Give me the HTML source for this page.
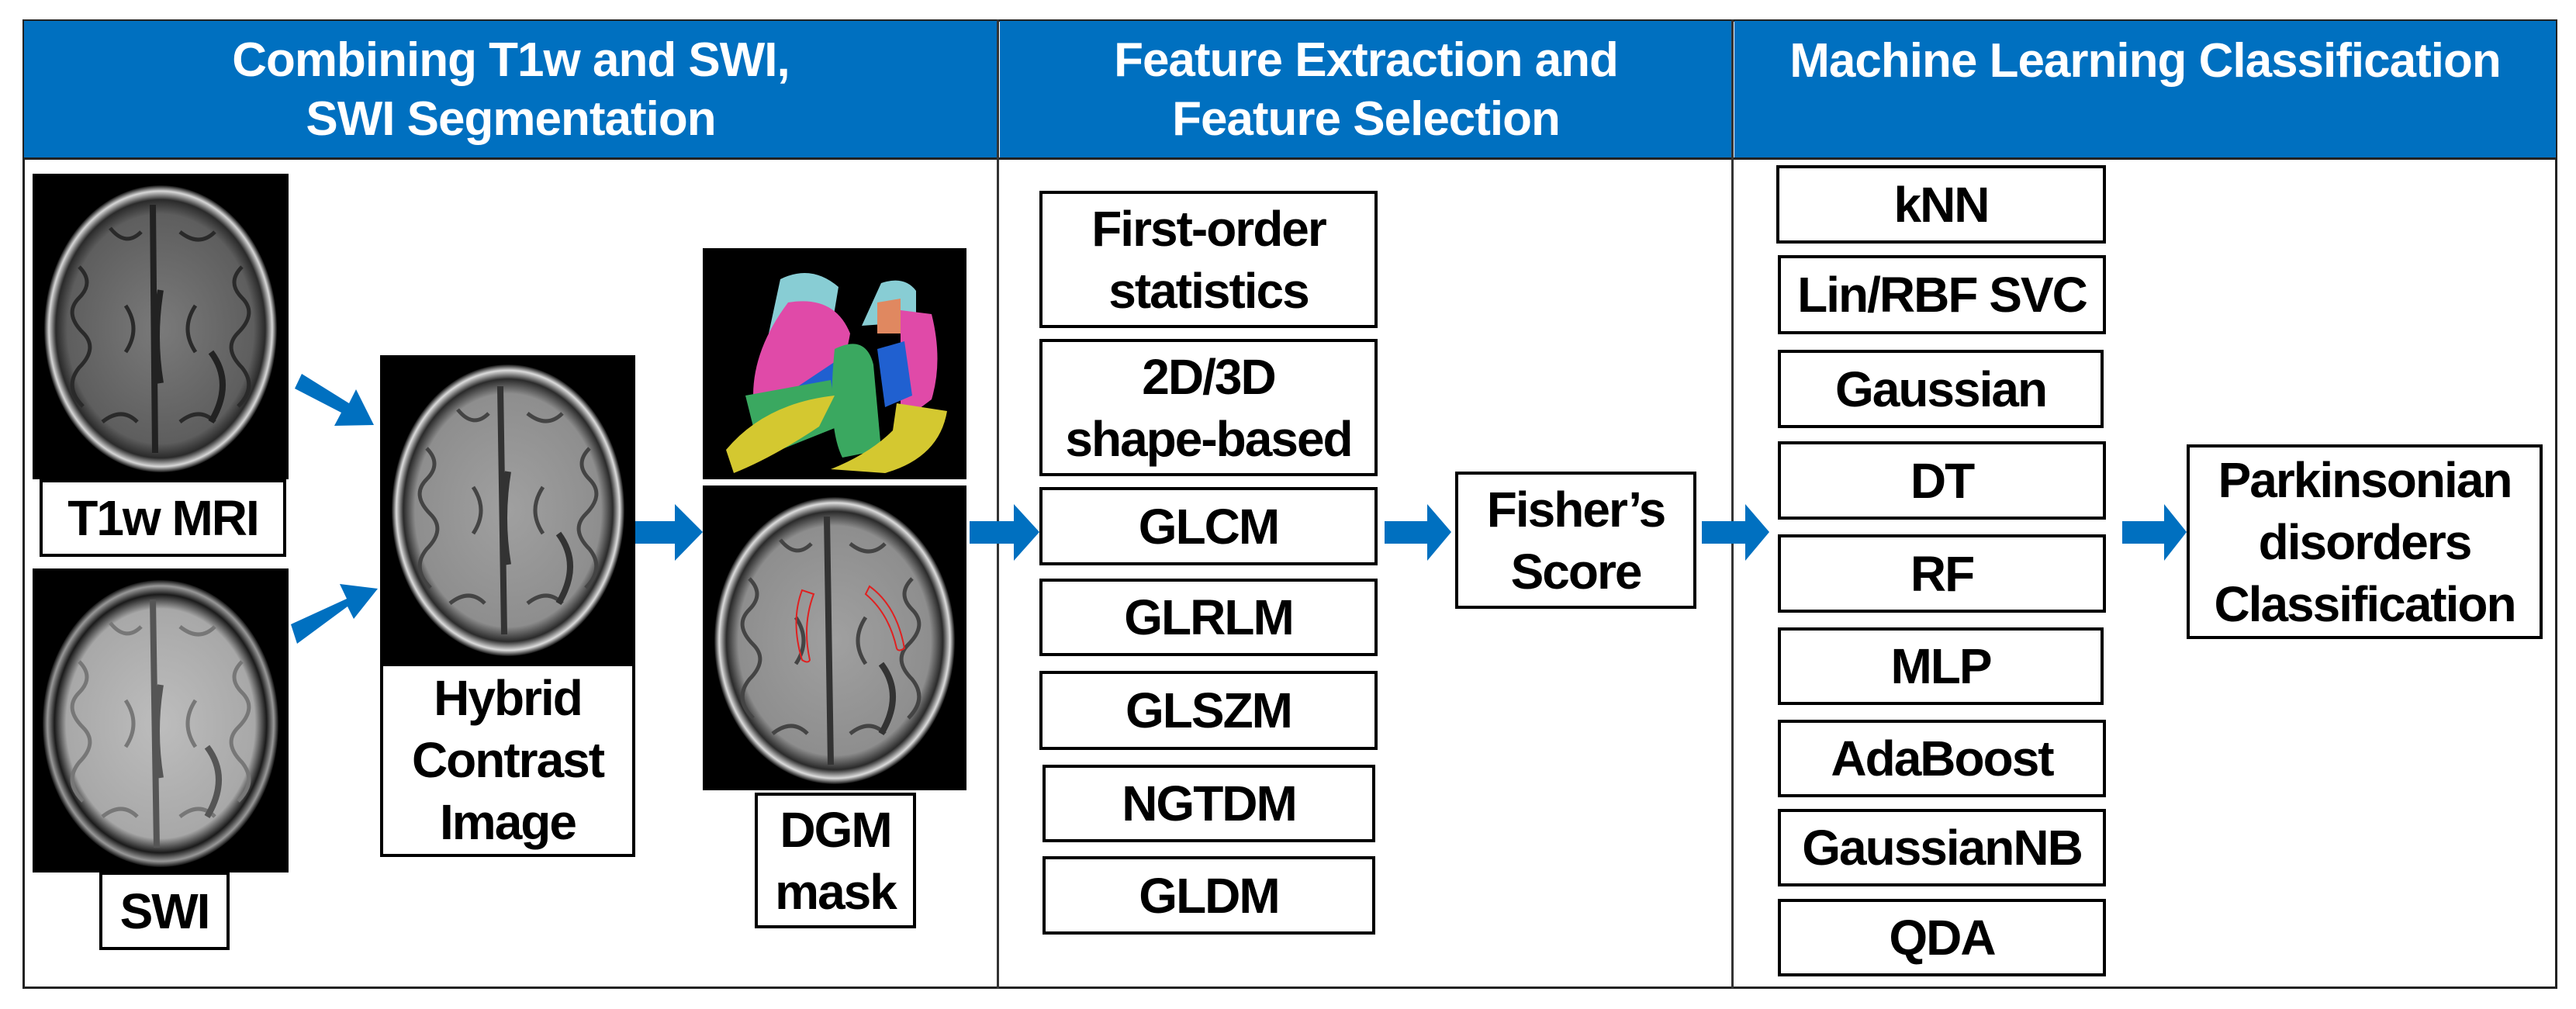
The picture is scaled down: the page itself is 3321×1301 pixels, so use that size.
<!DOCTYPE html>
<html><head><meta charset="utf-8"><style>
*{margin:0;padding:0;box-sizing:border-box}
body{width:3321px;height:1301px;background:#fff;position:relative;overflow:hidden;font-family:"Liberation Sans","Noto Sans CJK KR",sans-serif;font-weight:bold}
.a{position:absolute}
.box{position:absolute;border:4px solid #000;background:#fff;display:flex;align-items:center;justify-content:center;text-align:center;font-size:64px;line-height:1.25;color:#000;letter-spacing:-2px}
.hd{position:absolute;top:27px;height:178px;background:#0070c0;color:#fff;font-size:62px;line-height:76px;text-align:center;display:flex;align-items:center;justify-content:center;letter-spacing:-1px}
.img{position:absolute;background:#000}
</style></head><body>
<svg width="0" height="0" style="position:absolute"><defs>
<radialGradient id="bt1" cx="50%" cy="50%" r="50%"><stop offset="0" stop-color="#7a7a7a"/><stop offset="0.8" stop-color="#5e5e5e"/><stop offset="0.9" stop-color="#2a2a2a"/><stop offset="0.96" stop-color="#d8d8d8"/><stop offset="1" stop-color="#111"/></radialGradient>
<radialGradient id="bsw" cx="50%" cy="50%" r="50%"><stop offset="0" stop-color="#bdbdbd"/><stop offset="0.8" stop-color="#a8a8a8"/><stop offset="0.9" stop-color="#1a1a1a"/><stop offset="0.96" stop-color="#999"/><stop offset="1" stop-color="#111"/></radialGradient>
<radialGradient id="bhy" cx="50%" cy="50%" r="50%"><stop offset="0" stop-color="#a0a0a0"/><stop offset="0.8" stop-color="#8e8e8e"/><stop offset="0.9" stop-color="#2a2a2a"/><stop offset="0.96" stop-color="#ddd"/><stop offset="1" stop-color="#111"/></radialGradient>
<g id="gyri" fill="none" stroke-width="5">
<path d="M60 120 q20 20 0 40 q-20 20 5 45 q20 20 -5 45 q-20 25 5 50"/>
<path d="M270 120 q-20 20 0 40 q20 20 -5 45 q-20 20 5 45 q20 25 -5 50"/>
<path d="M100 70 q20 25 40 5 M190 75 q25 20 45 0 M90 320 q25-20 45 0 M190 320 q25-20 45 0"/>
<path d="M120 170 q20 30 0 60 M210 170 q-20 30 0 60"/>
</g>
</defs></svg>

<div class="a" style="left:29px;top:25px;width:3268px;height:1250px;border:3px solid #222"></div>
<div class="hd" style="left:31px;width:1255px">Combining T1w and SWI,<br>SWI Segmentation</div>
<div class="hd" style="left:1289px;width:944px">Feature Extraction and<br>Feature Selection</div>
<div class="hd" style="left:2236px;width:1059px;align-items:flex-start;padding-top:14px">Machine Learning Classification</div>
<div class="a" style="left:29px;top:203px;width:3268px;height:3px;background:#222"></div>
<div class="a" style="left:1285px;top:25px;width:3px;height:1250px;background:#333"></div>
<div class="a" style="left:2232px;top:25px;width:3px;height:1250px;background:#333"></div>

<svg class="img" style="left:42px;top:224px" width="330" height="394"><rect width="330" height="394" fill="#000"/><ellipse cx="165" cy="200" rx="150" ry="185" fill="url(#bt1)"/><use href="#gyri" stroke="#2a2a2a"/><path d="M155 40 L158 360 M165 150 q-10 60 0 120 M230 230 q30 40 0 90" stroke="#222" stroke-width="8" fill="none"/></svg>
<div class="box" style="left:51px;top:618px;width:318px;height:100px">T1w MRI</div>
<svg class="img" style="left:42px;top:733px" width="330" height="392"><rect width="330" height="392" fill="#000"/><ellipse cx="165" cy="200" rx="152" ry="185" fill="url(#bsw)"/><use href="#gyri" stroke="#777"/><path d="M155 40 L160 360 M165 150 q-10 60 0 120 M225 230 q30 40 0 90" stroke="#555" stroke-width="8" fill="none"/></svg>
<div class="box" style="left:128px;top:1124px;width:168px;height:101px">SWI</div>
<svg class="img" style="left:490px;top:458px" width="329" height="397"><rect width="329" height="397" fill="#000"/><ellipse cx="165" cy="200" rx="150" ry="188" fill="url(#bhy)"/><use href="#gyri" stroke="#444"/><path d="M155 40 L160 360 M165 150 q-10 60 0 120 M230 230 q30 40 0 90" stroke="#333" stroke-width="8" fill="none"/></svg>
<div class="box" style="left:490px;top:855px;width:329px;height:250px">Hybrid<br>Contrast<br>Image</div>
<svg class="img" style="left:906px;top:320px" width="340" height="298"><rect width="340" height="298" fill="#000"/>
<path d="M100 40 q40-20 75 10 l-10 60 l-80 0z" fill="#88cdd4"/><path d="M230 45 q30-10 45 10 l0 40 l-70 5z" fill="#88cdd4"/>
<path d="M110 70 q60-10 80 40 q-10 60-40 80 l-80 40 q-20-80 40-160z" fill="#e04aa8"/>
<path d="M120 180 l60-40 l10 50 l-80 30z" fill="#2060d0"/>
<path d="M255 80 l40 5 q15 60 0 110 l-40 30z" fill="#e04aa8"/><path d="M225 70 l30 -5 l0 45 l-30 0z" fill="#e08860"/>
<path d="M225 130 l35 -10 l10 70 l-35 15z" fill="#2060d0"/>
<path d="M170 130 q40-20 50 20 l10 110 l-50 10 q-20-40-10-140z" fill="#3aa860"/>
<path d="M55 190 l110 -20 l10 60 l-100 40z" fill="#3aa860"/>
<path d="M30 260 q50-60 140-70 l-20 40 q-60 40-110 60z" fill="#d4c830"/>
<path d="M250 200 l65 10 q-10 60-80 80 l-70 -5 q50-20 80-50z" fill="#d4c830"/>
</svg>
<svg class="img" style="left:906px;top:626px" width="340" height="393"><rect width="340" height="393" fill="#000"/><ellipse cx="170" cy="200" rx="155" ry="185" fill="url(#bhy)"/><use href="#gyri" stroke="#444"/><path d="M160 40 L165 360 M230 230 q30 40 0 90" stroke="#333" stroke-width="8" fill="none"/><path d="M128 135 q-15 40 0 90 q8 5 10 0 q-10-45 5-85z" stroke="#e02020" stroke-width="2" fill="none"/><path d="M215 130 q35 25 45 80 q-8 5-10 0 q-10-45-40-70z" stroke="#e02020" stroke-width="2" fill="none"/></svg>
<div class="box" style="left:973px;top:1022px;width:208px;height:175px">DGM<br>mask</div>

<svg class="a" style="left:0;top:0" width="3321" height="1301">
<g fill="#0070c0">
<polygon points="380,501 389,482 450,520 459,502 482,548 431,549 440,532" />
<polygon points="375,805 447,772 438,753 487,759 456,798 448,782 383,830"/>
<polygon points="819,672 870,672 870,650 906,686 870,723 870,701 819,701"/>
<polygon points="1250,672 1307,672 1307,650 1340,686 1307,723 1307,701 1250,701"/>
<polygon points="1785,672 1840,672 1840,650 1871,686 1840,723 1840,701 1785,701"/>
<polygon points="2194,672 2250,672 2250,650 2281,686 2250,723 2250,701 2194,701"/>
<polygon points="2736,672 2790,672 2790,650 2819,686 2790,723 2790,701 2736,701"/>
</g></svg>

<div class="box" style="left:1340px;top:246px;width:436px;height:177px">First-order<br>statistics</div>
<div class="box" style="left:1340px;top:437px;width:436px;height:177px">2D/3D<br>shape-based</div>
<div class="box" style="left:1340px;top:628px;width:436px;height:101px">GLCM</div>
<div class="box" style="left:1340px;top:746px;width:436px;height:100px">GLRLM</div>
<div class="box" style="left:1340px;top:865px;width:436px;height:102px">GLSZM</div>
<div class="box" style="left:1344px;top:986px;width:429px;height:100px">NGTDM</div>
<div class="box" style="left:1344px;top:1104px;width:429px;height:101px">GLDM</div>
<div class="box" style="left:1876px;top:608px;width:311px;height:177px">Fisher’s<br>Score</div>

<div class="box" style="left:2290px;top:213px;width:425px;height:101px">kNN</div>
<div class="box" style="left:2292px;top:329px;width:423px;height:102px">Lin/RBF SVC</div>
<div class="box" style="left:2292px;top:451px;width:420px;height:101px">Gaussian</div>
<div class="box" style="left:2292px;top:569px;width:423px;height:101px">DT</div>
<div class="box" style="left:2292px;top:689px;width:423px;height:101px">RF</div>
<div class="box" style="left:2292px;top:809px;width:420px;height:100px">MLP</div>
<div class="box" style="left:2292px;top:928px;width:423px;height:100px">AdaBoost</div>
<div class="box" style="left:2292px;top:1043px;width:423px;height:100px">GaussianNB</div>
<div class="box" style="left:2292px;top:1159px;width:423px;height:100px">QDA</div>
<div class="box" style="left:2819px;top:573px;width:459px;height:251px">Parkinsonian<br>disorders<br>Classification</div>
</body></html>
